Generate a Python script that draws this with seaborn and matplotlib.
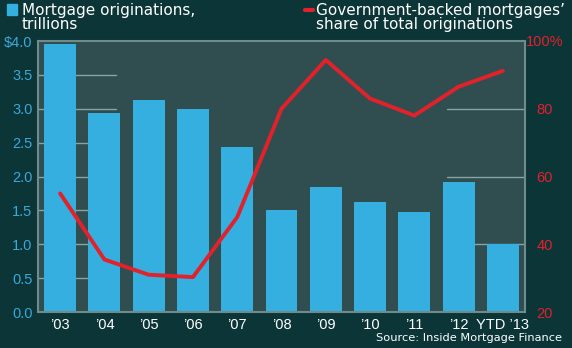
import numpy as np
import pandas as pd
import matplotlib
matplotlib.use("Agg")
import matplotlib.pyplot as plt
import seaborn as sns

years = ["\u201903", "\u201904", "\u201905", "\u201906", "\u201907", "\u201908",
         "\u201909", "\u201910", "\u201911", "\u201912", "YTD \u201913"]
originations = [3.95, 2.93, 3.13, 2.99, 2.44, 1.51, 1.85, 1.63, 1.48, 1.92, 1.01]
gov_share = [55, 35.5, 31, 30.3, 48, 80, 94.4, 83, 78, 86.5, 91.2]
left_ticks = [0.0, 0.5, 1.0, 1.5, 2.0, 2.5, 3.0, 3.5, 4.0]
left_labels = ["0.0", "0.5", "1.0", "1.5", "2.0", "2.5", "3.0", "3.5", "$4.0"]
right_ticks = [20, 40, 60, 80, 100]
right_labels = ["20", "40", "60", "80", "100%"]

FIG_BG = "#0b3537"
AX_BG = "#304e4f"
BAR = "#34afdf"
RED = "#e3212b"
FRAME = "#6f8c8c"
GRID = "#8aa3a3"
BLUE_TXT = "#3aa8d8"

sns.set_style("white")
plt.rcParams["font.family"] = ["DejaVu Sans"]
tick_font = ["Liberation Sans Narrow", "Liberation Sans", "DejaVu Sans"]

fig = plt.figure(figsize=(5.72, 3.48), dpi=100, facecolor=FIG_BG)
ax = fig.add_axes([38/572, 1-312/348, (525-38)/572, (312-41)/348])
ax.set_facecolor(AX_BG)

df = pd.DataFrame({"year": years, "orig": originations, "share": gov_share})

# partial gridlines (behind bars)
for v in left_ticks[1:-1]:
    ax.axhline(v, xmin=0, xmax=(116-38)/487, color=GRID, lw=1, zorder=0.5)
for v in [1.0, 2.0, 3.0]:
    ax.axhline(v, xmin=(447-38)/487, xmax=1, color=GRID, lw=1, zorder=0.5)

sns.barplot(data=df, x="year", y="orig", ax=ax, color=BAR, width=0.72,
            saturation=1, zorder=2, edgecolor="none")
ax.set_xlim(-0.5, len(years)-0.5)
ax.set_ylim(0, 4)
ax.set_xlabel("")
ax.set_ylabel("")
ax.set_yticks(left_ticks)
ax.set_yticklabels(left_labels, color=BLUE_TXT, fontsize=10.5, family=tick_font)
ax.set_xticks(range(len(years)))
ax.set_xticklabels(years, color="white", fontsize=10.5, family=tick_font)
ax.tick_params(axis="both", length=0, pad=4)
for s in ax.spines.values():
    s.set_color(FRAME)
    s.set_linewidth(1.5)

ax2 = ax.twinx()
sns.lineplot(x=np.arange(len(years)), y=df["share"], ax=ax2, color=RED, lw=2.8)
ax2.set_ylim(20, 100)
ax2.set_yticks(right_ticks)
ax2.set_yticklabels(right_labels, color=RED, fontsize=10.5, family=tick_font)
ax2.tick_params(axis="y", length=0, pad=14)
for lab in ax2.get_yticklabels():
    lab.set_horizontalalignment("center")
ax2.set_ylabel("")
for s in ax2.spines.values():
    s.set_visible(False)

# legend-like header
fig.patches.append(plt.Rectangle((7/572, 1-15/348), 10/572, 11/348,
                                 transform=fig.transFigure, color=BAR))
fig.text(22/572, 1-2.5/348, "Mortgage originations,\ntrillions", color="white",
         fontsize=11, va="top", ha="left", linespacing=0.95)
fig.lines.append(plt.Line2D([305/572, 313/572], [1-10/348, 1-10/348],
                            transform=fig.transFigure, color=RED, lw=3))
fig.text(316/572, 1-2.5/348, "Government-backed mortgages\u2019\nshare of total originations",
         color="white", fontsize=11, va="top", ha="left", linespacing=0.95)
fig.text(562/572, 1-343/348, "Source: Inside Mortgage Finance", color="white",
         fontsize=8.2, ha="right", va="bottom")

fig.savefig("out.png", dpi=100, facecolor=FIG_BG)
